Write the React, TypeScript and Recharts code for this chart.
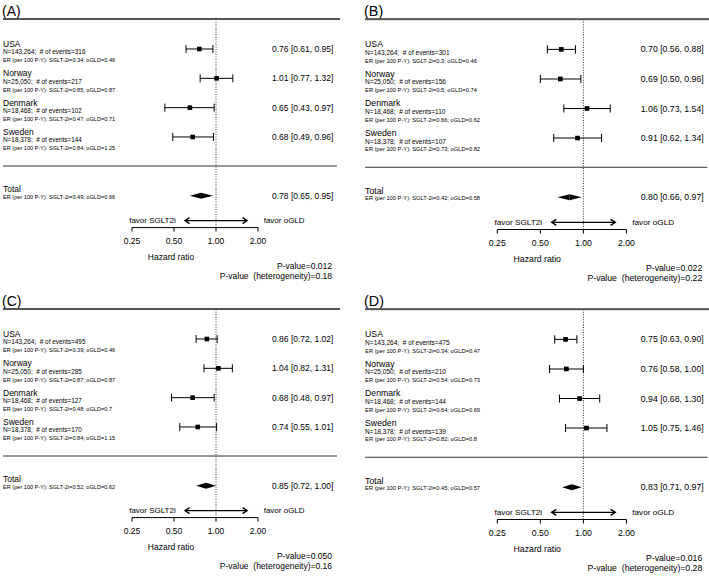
import React from "react";
import { ScatterChart, Scatter, XAxis, YAxis, ReferenceLine, ErrorBar } from "recharts";

// ---------- data ----------
const countries = ["USA", "Norway", "Denmark", "Sweden"];
const sampleSizes = ["143,264", "25,050", "18,468", "18,378"];
const panelLabels = ["(A)", "(B)", "(C)", "(D)"];
const hrTicks = [0.25, 0.5, 1, 2];
const arrowRange = [0.6, 1.67];

// index 0-3: countries, index 4: total
const hrA = [0.76, 1.01, 0.65, 0.68, 0.78];
const loA = [0.61, 0.77, 0.43, 0.49, 0.65];
const hiA = [0.95, 1.32, 0.97, 0.96, 0.95];
const erSgltA = [0.34, 0.85, 0.47, 0.84, 0.49];
const erOgldA = [0.46, 0.87, 0.71, 1.25, 0.66];
const eventsA = [316, 217, 102, 144];
const pA = ["0.012", "0.18"];

const hrB = [0.70, 0.69, 1.06, 0.91, 0.80];
const loB = [0.56, 0.50, 0.73, 0.62, 0.66];
const hiB = [0.88, 0.96, 1.54, 1.34, 0.97];
const erSgltB = [0.3, 0.5, 0.66, 0.73, 0.42];
const erOgldB = [0.46, 0.74, 0.62, 0.82, 0.58];
const eventsB = [301, 156, 110, 107];
const pB = ["0.022", "0.22"];

const hrC = [0.86, 1.04, 0.68, 0.74, 0.85];
const loC = [0.72, 0.82, 0.48, 0.55, 0.72];
const hiC = [1.02, 1.31, 0.97, 1.01, 1.00];
const erSgltC = [0.39, 0.87, 0.48, 0.84, 0.52];
const erOgldC = [0.46, 0.87, 0.7, 1.15, 0.62];
const eventsC = [495, 285, 127, 170];
const pC = ["0.050", "0.16"];

const hrD = [0.75, 0.76, 0.94, 1.05, 0.83];
const loD = [0.63, 0.58, 0.68, 0.75, 0.71];
const hiD = [0.90, 1.00, 1.30, 1.46, 0.97];
const erSgltD = [0.34, 0.54, 0.64, 0.82, 0.45];
const erOgldD = [0.47, 0.73, 0.69, 0.8, 0.57];
const eventsD = [475, 210, 144, 139];
const pD = ["0.016", "0.28"];

const panels = [
  { label: panelLabels[0], hr: hrA, lo: loA, hi: hiA, es: erSgltA, eo: erOgldA, ev: eventsA, p: pA },
  { label: panelLabels[1], hr: hrB, lo: loB, hi: hiB, es: erSgltB, eo: erOgldB, ev: eventsB, p: pB },
  { label: panelLabels[2], hr: hrC, lo: loC, hi: hiC, es: erSgltC, eo: erOgldC, ev: eventsC, p: pC },
  { label: panelLabels[3], hr: hrD, lo: loD, hi: hiD, es: erSgltD, eo: erOgldD, ev: eventsD, p: pD },
];

// ---------- layout ----------
const FONT = "'Liberation Sans', Arial, Helvetica, sans-serif";
const W = 354;
const H = 290;
const TOTAL_ROW = 5;
const Y_DOMAIN = [-1, 6.09];
const panelPos = [
  { left: 0, top: 0, sx: 1, sy: 1 },
  { left: 362, top: 0, sx: 1.025, sy: 1.008 },
  { left: 0, top: 290, sx: 1, sy: 1 },
  { left: 362, top: 290, sx: 1.025, sy: 1.008 },
];

const fmt = (v: number) => v.toFixed(2);
const nb = "\u00a0";

function makeTick(panel: any) {
  return (props: any) => {
    const { y, payload } = props;
    const v = payload.value;
    if (v === TOTAL_ROW) {
      return (
        <g fontFamily={FONT} fill="#000">
          <text x={3} y={y - 3.3} fontSize={8.5}>Total</text>
          <text x={3} y={y + 3.2} fontSize={5.6}>
            {`ER (per 100 P-Y): SGLT-2i=${panel.es[4]}; oGLD=${panel.eo[4]}`}
          </text>
          <text x={272} y={y + 3} fontSize={8.5}>
            {`${fmt(panel.hr[4])} [${fmt(panel.lo[4])}, ${fmt(panel.hi[4])}]`}
          </text>
        </g>
      );
    }
    const i = v;
    return (
      <g fontFamily={FONT} fill="#000">
        <text x={3} y={y - 2} fontSize={8.5}>{countries[i]}</text>
        <text x={3} y={y + 5.5} fontSize={6.4}>
          {`N=${sampleSizes[i]};${nb} # of events=${panel.ev[i]}`}
        </text>
        <text x={3} y={y + 13.3} fontSize={5.6}>
          {`ER (per 100 P-Y): SGLT-2i=${panel.es[i]}; oGLD=${panel.eo[i]}`}
        </text>
        <text x={272} y={y + 3} fontSize={8.5}>
          {`${fmt(panel.hr[i])} [${fmt(panel.lo[i])}, ${fmt(panel.hi[i])}]`}
        </text>
      </g>
    );
  };
}

const Square = (p: any) => (
  <rect x={p.cx - 2.3} y={p.cy - 2.3} width={4.6} height={4.6} fill="#000" />
);

const LeftHalf = (p: any) => (
  <polygon points={`${p.x1},${p.y1} ${p.x2},${p.y2 - 3} ${p.x2},${p.y2 + 3}`} fill="#000" />
);
const RightHalf = (p: any) => (
  <polygon points={`${p.x1},${p.y1 - 3} ${p.x1},${p.y1 + 3} ${p.x2},${p.y2}`} fill="#000" />
);

const Arrow = (p: any) => {
  const { x1, x2, y1 } = p;
  return (
    <g>
      <line x1={x1} y1={y1} x2={x2} y2={y1} stroke="#000" strokeWidth={1.2} />
      <polyline points={`${x1 + 4.5},${y1 - 3} ${x1},${y1} ${x1 + 4.5},${y1 + 3}`} fill="none" stroke="#000" strokeWidth={1.4} />
      <polyline points={`${x2 - 4.5},${y1 - 3} ${x2},${y1} ${x2 - 4.5},${y1 + 3}`} fill="none" stroke="#000" strokeWidth={1.4} />
      <text x={x1 - 9.3} y={y1 + 2.6} fontSize={8} textAnchor="end" fontFamily={FONT} fill="#000">favor SGLT2i</text>
      <text x={x2 + 16.6} y={y1 + 2.6} fontSize={8} textAnchor="start" fontFamily={FONT} fill="#000">favor oGLD</text>
    </g>
  );
};

function Panel({ panel, pos }: any) {
  const rows = countries.map((c, i) => ({
    hr: panel.hr[i],
    row: i,
    err: [panel.hr[i] - panel.lo[i], panel.hi[i] - panel.hr[i]],
  }));
  return (
    <div
      style={{
        position: "absolute",
        left: pos.left,
        top: pos.top,
        width: W,
        height: H,
        transform: `scale(${pos.sx}, ${pos.sy})`,
        transformOrigin: "0 0",
      }}
    >
      <svg width={W} height={H} style={{ position: "absolute", left: 0, top: 0 }}>
        <text x={2} y={16} fontSize={14} fontFamily={FONT} fill="#000">{panel.label}</text>
        <rect x={3} y={18} width={337} height={2} fill="#555" />
        <line x1={3} x2={337} y1={166} y2={166} stroke="#333" strokeWidth={1} />
        <text x={171} y={259.5} fontSize={8.5} textAnchor="middle" fontFamily={FONT} fill="#000">Hazard ratio</text>
        <text x={332} y={269} fontSize={8.5} textAnchor="end" fontFamily={FONT} fill="#000">{`P-value=${panel.p[0]}`}</text>
        <text x={332} y={278.5} fontSize={8.5} textAnchor="end" fontFamily={FONT} fill="#000">{`P-value${nb} (heterogeneity)=${panel.p[1]}`}</text>
      </svg>
      <div style={{ position: "absolute", left: 0, top: 0 }}>
        <ScatterChart
          width={W}
          height={H}
          margin={{ top: 19.67, right: 96, bottom: 32.4, left: 0 }}
          style={{ fontFamily: FONT }}
        >
          <XAxis
            type="number"
            dataKey="hr"
            scale="log"
            domain={[0.25, 2]}
            ticks={hrTicks}
            interval={0}
            allowDataOverflow
            tickFormatter={fmt}
            tick={{ fontSize: 8.5, fill: "#000", fontFamily: FONT }}
            tickSize={4}
            tickMargin={6}
            axisLine={{ stroke: "#000", strokeWidth: 1 }}
            tickLine={{ stroke: "#000", strokeWidth: 1 }}
            height={30}
          />
          <YAxis
            type="number"
            dataKey="row"
            domain={Y_DOMAIN}
            reversed
            allowDataOverflow
            ticks={[0, 1, 2, 3, TOTAL_ROW]}
            interval={0}
            tick={makeTick(panel)}
            width={132}
            axisLine={false}
            tickLine={false}
          />
          <ReferenceLine x={1} stroke="#333" strokeDasharray="1 1.5" strokeWidth={1} />
          <ReferenceLine
            segment={[{ x: panel.lo[4], y: TOTAL_ROW }, { x: panel.hr[4], y: TOTAL_ROW }]}
            shape={LeftHalf}
          />
          <ReferenceLine
            segment={[{ x: panel.hr[4], y: TOTAL_ROW }, { x: panel.hi[4], y: TOTAL_ROW }]}
            shape={RightHalf}
          />
          <ReferenceLine
            segment={[{ x: arrowRange[0], y: 5.85 }, { x: arrowRange[1], y: 5.85 }]}
            shape={Arrow}
          />
          <Scatter data={rows} shape={Square} isAnimationActive={false}>
            <ErrorBar dataKey="err" direction="x" width={4} stroke="#000" strokeWidth={1} isAnimationActive={false} />
          </Scatter>
        </ScatterChart>
      </div>
    </div>
  );
}

export default function App() {
  return (
    <div
      style={{
        position: "absolute",
        left: 0,
        top: 0,
        width: 709,
        height: 580,
        background: "#fff",
        overflow: "hidden",
      }}
    >
      {panels.map((p, i) => (
        <Panel key={i} panel={p} pos={panelPos[i]} />
      ))}
    </div>
  );
}
